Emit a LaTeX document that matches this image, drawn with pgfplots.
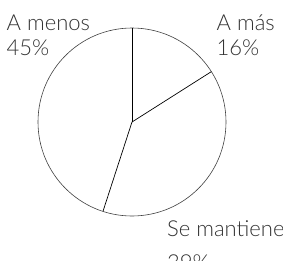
\documentclass[border=0pt]{standalone}
\usepackage{fontspec}
\setmainfont{Lato}[UprightFont={* Light}]
\usepackage{pgfplots}
\pgfplotsset{compat=1.18}
\usepgfplotslibrary{polar}
\definecolor{txt}{HTML}{333333}
\begin{document}
\begin{tikzpicture}[x=1pt,y=1pt]
\useasboundingbox (0,0) rectangle (283,260);
\clip (0,0) rectangle (283,260);
% shares: A más 16, Se mantiene 39, A menos 45 -> boundaries clockwise from 90 deg
\begin{polaraxis}[
  at={(132pt,138pt)}, anchor=center,
  scale only axis, width=188pt, height=188pt,
  ymin=0, ymax=1,
  xtick=\empty, ytick=\empty,
  separate axis lines,
  x axis line style={black!75, line width=0.6pt},
  y axis line style={draw=none},
]
\addplot[black, line width=0.7pt, no marks] coordinates {(90,0) (90,1)};
\addplot[black, line width=0.7pt, no marks] coordinates {(32.4,0) (32.4,1)};
\addplot[black, line width=0.7pt, no marks] coordinates {(-108,0) (-108,1)};
\end{polaraxis}
\begin{scope}[every node/.style={inner sep=0pt, anchor=base west, text=txt, font=\fontsize{22}{26}\selectfont}]
\node at (6.5,229) {A menos};
\node at (6.5,204) {45\%};
\node at (216.5,229) {A más};
\node at (216.5,204) {16\%};
\node at (167,23.5) {Se mantiene};
\node at (167,-10) {39\%};
\end{scope}
\end{tikzpicture}
\end{document}
